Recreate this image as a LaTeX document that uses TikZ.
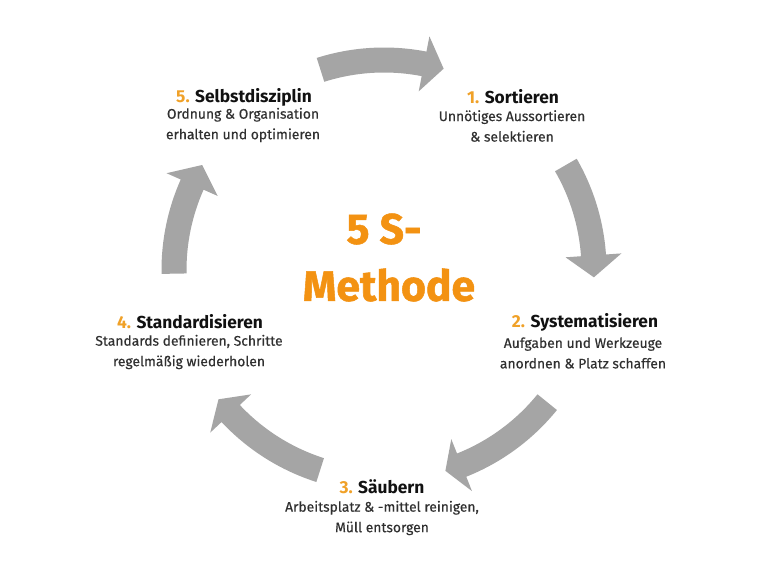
\documentclass[tikz,border=0pt]{standalone}
\usepackage{fontspec}
\setmainfont{Fira Sans}
\newfontfamily\descfont[FakeBold=0.35]{Fira Sans}
\newfontfamily\titlefont[FakeBold=1.2]{Fira Sans Bold}
\definecolor{numorange}{HTML}{F0A128}
\definecolor{titleorange}{HTML}{F39212}
\definecolor{arrowgray}{HTML}{A5A5A5}
\definecolor{headblack}{HTML}{111111}
\definecolor{descgray}{HTML}{303030}
\newcommand\fivesarrow[3]{%
  \fill[arrowgray] (-#1:222.5) arc[start angle=-#1, end angle=-#2, radius=222.5]
    -- (-#2:238) -- (-#3:210) -- (-#2:182) -- (-#2:197.5)
    arc[start angle=-#2, end angle=-#1, radius=197.5] -- cycle;}
\tikzset{
  headtext/.style={font=\fontsize{13pt}{15pt}\selectfont\bfseries, text=headblack, inner sep=0pt},
  desctext/.style={font=\descfont\fontsize{10.4pt}{15.4pt}\selectfont, text=descgray, align=center, inner sep=0pt},
  titletext/.style={font=\titlefont\fontsize{32pt}{38pt}\selectfont, text=titleorange, inner sep=0pt}
}
\begin{document}
\begin{tikzpicture}[x=0.75pt,y=-0.75pt]
\useasboundingbox (0,0) rectangle (768,576);
\fill[white] (0,0) rectangle (768,576);
\begin{scope}[shift={(384,270)}]
  \fivesarrow{107.6}{79}{73.5}
  \fivesarrow{30}{4}{-2}
  \fivesarrow{-39}{-68.3}{-73}
  \fivesarrow{-107.7}{-136.9}{-142}
  \fivesarrow{181}{156}{150}
\end{scope}
\node[titletext] (t1) at (384,229) {5 S-};
\node[titletext] (t2) at (389,285) {Methode};
% 1
\node[headtext] (h1) at (513,97) {\textcolor{numorange}{1.} Sortieren};
\node[desctext] (d1) at (512,126) {Unnötiges Aussortieren\\\& selektieren};
% 2
\node[headtext] (h2) at (585,322) {\textcolor{numorange}{2.} Systematisieren};
\node[desctext] (d2) at (583,353) {Aufgaben und Werkzeuge\\anordnen \& Platz schaffen};
% 3
\node[headtext] (h3) at (382,487) {\textcolor{numorange}{3.} Säubern};
\node[desctext] (d3) at (382,518) {Arbeitsplatz \& -mittel reinigen,\\Müll entsorgen};
% 4
\node[headtext] (h4) at (190,322) {\textcolor{numorange}{4.} Standardisieren};
\node[desctext] (d4) at (189,352) {Standards definieren, Schritte\\regelmäßig wiederholen};
% 5
\node[headtext] (h5) at (244,97) {\textcolor{numorange}{5.} Selbstdisziplin};
\node[desctext] (d5) at (243,125) {Ordnung \& Organisation\\erhalten und optimieren};
\end{tikzpicture}
\end{document}
